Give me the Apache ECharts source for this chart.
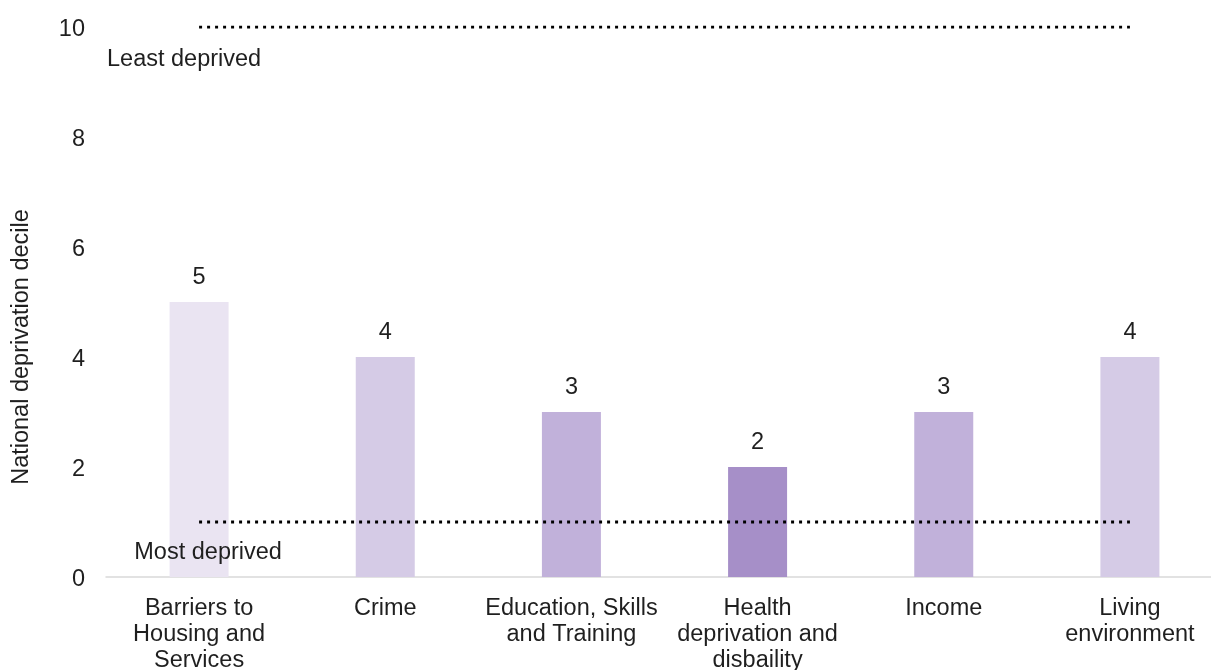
<!DOCTYPE html>
<html>
<head>
<meta charset="utf-8">
<script src="https://cdn.jsdelivr.net/npm/echarts@6/dist/echarts.min.js"></script>
<style>
html,body{margin:0;padding:0;background:#fff;}
#chart{width:1211px;height:670px;}
</style>
</head>
<body>
<div id="chart"></div>
<script>
const categories = ["Barriers to\nHousing and\nServices", "Crime", "Education, Skills\nand Training", "Health\ndeprivation and\ndisbaility", "Income", "Living\nenvironment"];
const deciles = [5, 4, 3, 2, 3, 4];
const barColors = ["#EAE4F2", "#D5CBE6", "#C1B1DA", "#A68FC8", "#C1B1DA", "#D5CBE6"];
const leastLine = [10, 10, 10, 10, 10, 10];
const mostLine = [1, 1, 1, 1, 1, 1];
const yTicks = [0, 2, 4, 6, 8, 10];
const yTitle = "National deprivation decile";
const leastText = "Least deprived";
const mostText = "Most deprived";

const FONT = "'Liberation Sans', Arial, sans-serif";
const TXT = "#1f1f1f";
const FS = 23.5;

const chart = echarts.init(document.getElementById('chart'));

function lineData(arr, text, offset) {
  return arr.map((v, i) => i === 0 ? {
    value: v,
    label: {
      show: true, position: 'bottom', formatter: text, offset: offset,
      fontFamily: FONT, fontSize: FS, color: TXT
    }
  } : v);
}

chart.setOption({
  animation: false,
  grid: { left: 106, width: 1117, top: 27, bottom: 93, containLabel: false, outerBoundsMode: 'none' },
  xAxis: {
    type: 'category',
    data: categories,
    axisLine: { show: true, lineStyle: { color: '#D9D9D9', width: 1.5 } },
    axisTick: { show: false },
    axisLabel: {
      interval: 0, margin: 19, fontFamily: FONT, fontSize: FS, color: TXT,
      lineHeight: 26, align: 'center', hideOverlap: false
    }
  },
  yAxis: {
    type: 'value',
    min: yTicks[0], max: yTicks[yTicks.length - 1], interval: 2,
    axisLine: { show: false },
    axisTick: { show: false },
    splitLine: { show: false },
    axisLabel: { margin: 21, fontFamily: FONT, fontSize: FS, color: TXT, verticalAlign: 'top', lineHeight: 6 }
  },
  series: [
    {
      type: 'bar',
      barWidth: 59,
      data: deciles.map((v, i) => ({ value: v, itemStyle: { color: barColors[i] } })),
      label: {
        show: true, position: 'top', distance: 12,
        fontFamily: FONT, fontSize: FS, color: TXT
      },
      z: 2
    },
    {
      type: 'line',
      data: lineData(leastLine, leastText, [-15, 16]),
      symbol: 'circle',
      symbolSize: 0,
      showAllSymbol: true,
      lineStyle: { color: '#000', width: 3, type: [3, 5] },
      itemStyle: { color: 'rgba(0,0,0,0)' },
      z: 3,
      silent: true
    },
    {
      type: 'line',
      data: lineData(mostLine, mostText, [9, 14]),
      symbol: 'circle',
      symbolSize: 0,
      showAllSymbol: true,
      lineStyle: { color: '#000', width: 3, type: [3, 5] },
      itemStyle: { color: 'rgba(0,0,0,0)' },
      z: 3,
      silent: true
    }
  ],
  graphic: [{
    type: 'text',
    x: 22, y: 347,
    rotation: Math.PI / 2,
    style: {
      text: yTitle, fontFamily: FONT, fontSize: FS, fill: TXT,
      align: 'center', verticalAlign: 'middle'
    }
  }]
});
</script>
</body>
</html>
